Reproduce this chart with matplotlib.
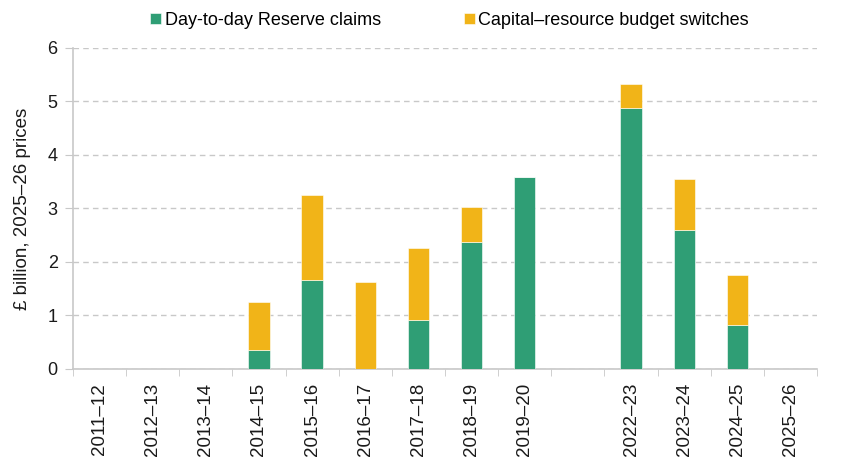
import numpy as np
import matplotlib.pyplot as plt

plt.rcParams['font.family'] = ['Liberation Sans', 'DejaVu Sans']

# categories (empty slot between 2019-20 and 2022-23)
years = ['2011–12', '2012–13', '2013–14', '2014–15', '2015–16', '2016–17',
         '2017–18', '2018–19', '2019–20', '', '2022–23', '2023–24',
         '2024–25', '2025–26']
reserve = [0, 0, 0, 0.36, 1.66, 0, 0.92, 2.37, 3.58, 0, 4.88, 2.59, 0.82, 0]
totals = [0, 0, 0, 1.25, 3.25, 1.63, 2.26, 3.02, 3.58, 0, 5.33, 3.56, 1.76, 0]
switches = [t - r for t, r in zip(totals, reserve)]

green = '#2f9e75'
yellow = '#f1b418'
grey = '#c8c8c8'
txt = '#1a1a1a'

fig = plt.figure(figsize=(8.48, 4.61), dpi=100)
ax = fig.add_axes([0.086, 0.1996, 0.8775, 0.6964])

x = np.arange(len(years))
w = 0.4
b1 = ax.bar(x, reserve, w, color=green, edgecolor='white', linewidth=0.4,
            label='Day-to-day Reserve claims', zorder=3)
b2 = ax.bar(x, switches, w, bottom=reserve, color=yellow, edgecolor='white',
            linewidth=0.4, label='Capital–resource budget switches', zorder=3)

ax.set_xlim(-0.5, len(years) - 0.5)
ax.set_ylim(0, 6)
ax.set_yticks(range(7))
ax.yaxis.grid(True, color=grey, linestyle=(0, (4, 3)), linewidth=1)
ax.set_axisbelow(True)

ax.set_xticks(x)
ax.set_xticklabels(years, rotation=90, fontsize=13.5, color=txt)
ax.tick_params(axis='x', which='major', length=0, pad=10)
ax.set_xticks(np.arange(-0.5, len(years)), minor=True)
ax.tick_params(axis='x', which='minor', length=5, color=grey)
ax.tick_params(axis='y', length=6, color=grey, labelsize=13, labelcolor=txt, pad=5)

for s in ['top', 'right']:
    ax.spines[s].set_visible(False)
for s in ['left', 'bottom']:
    ax.spines[s].set_color(grey)
    ax.spines[s].set_linewidth(1.2)

ax.set_ylabel('£ billion, 2025–26 prices', fontsize=13.5, color=txt, labelpad=12)

fig.legend(handles=[b1, b2], loc='upper center', bbox_to_anchor=(0.53, 1.01),
           ncol=2, frameon=False, fontsize=13, handlelength=0.6,
           handleheight=0.6, handletextpad=0.2, columnspacing=4.6)

fig.savefig('out.png', dpi=100)
